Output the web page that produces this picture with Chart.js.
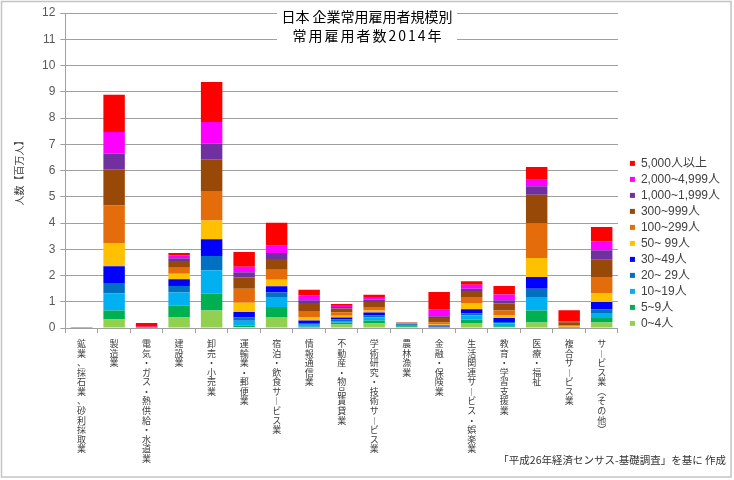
<!DOCTYPE html>
<html>
<head>
<meta charset="utf-8">
<script src="https://cdn.jsdelivr.net/npm/chart.js@4.4.1/dist/chart.umd.min.js"></script>
<style>
html, body { margin: 0; padding: 0; background: #fff; }
#wrap { width: 734px; height: 480px; position: relative; }
</style>
</head>
<body>
<div id="wrap"><canvas id="chart"></canvas></div>
<script>
// 産業分類
var categories = [
    "鉱業、採石業、砂利採取業", "製造業", "電気・ガス・熱供給・水道業", "建設業",
    "卸売・小売業", "運輸業・郵便業", "宿泊・飲食サービス業", "情報通信業",
    "不動産・物品賃貸業", "学術研究・技術サービス業", "農林漁業", "金融・保険業",
    "生活関連サービス・娯楽業", "教育・学習支援業", "医療・福祉", "複合サービス業",
    "サービス業（その他）"
];

// 規模別 常用雇用者数（百万人）
var s0_4      = [0.001, 0.32, 0.001, 0.40, 0.67, 0.04, 0.42, 0.02, 0.13, 0.17, 0.03, 0.01, 0.19, 0.04, 0.21, 0.005, 0.21];
var s5_9      = [0.001, 0.35, 0.001, 0.46, 0.64, 0.06, 0.38, 0.03, 0.07, 0.12, 0.04, 0.01, 0.13, 0.03, 0.46, 0.005, 0.17];
var s10_19    = [0.001, 0.64, 0.002, 0.49, 0.89, 0.18, 0.38, 0.07, 0.07, 0.11, 0.04, 0.02, 0.16, 0.10, 0.51, 0.01, 0.19];
var s20_29    = [0.001, 0.40, 0.002, 0.25, 0.54, 0.12, 0.17, 0.07, 0.06, 0.08, 0.03, 0.02, 0.07, 0.06, 0.32, 0.01, 0.14];
var s30_49    = [0.001, 0.64, 0.002, 0.26, 0.64, 0.21, 0.24, 0.10, 0.07, 0.11, 0.02, 0.04, 0.16, 0.15, 0.44, 0.01, 0.28];
var s50_99    = [0.001, 0.89, 0.004, 0.21, 0.72, 0.35, 0.25, 0.13, 0.07, 0.08, 0.02, 0.03, 0.24, 0.10, 0.73, 0.02, 0.32];
var s100_299  = [0.001, 1.43, 0.008, 0.23, 1.12, 0.54, 0.38, 0.23, 0.13, 0.13, 0.02, 0.08, 0.23, 0.19, 1.31, 0.04, 0.63];
var s300_999  = [0.001, 1.38, 0.01, 0.25, 1.21, 0.42, 0.41, 0.30, 0.14, 0.19, 0.01, 0.17, 0.23, 0.26, 1.10, 0.12, 0.66];
var s1000     = [0.000, 0.59, 0.01, 0.11, 0.59, 0.20, 0.23, 0.11, 0.06, 0.09, 0.005, 0.07, 0.09, 0.13, 0.32, 0.03, 0.36];
var s2000     = [0.000, 0.83, 0.01, 0.10, 0.83, 0.21, 0.29, 0.19, 0.08, 0.10, 0.003, 0.26, 0.15, 0.22, 0.25, 0.02, 0.34];
var s5000     = [0.000, 1.42, 0.14, 0.10, 1.52, 0.57, 0.86, 0.21, 0.03, 0.09, 0.003, 0.66, 0.13, 0.32, 0.48, 0.41, 0.55];

// 下から順
var seriesNames = ["0~4人", "5~9人", "10~19人", "20~ 29人", "30~49人", "50~ 99人",
                   "100~299人", "300~999人", "1,000~1,999人", "2,000~4,999人", "5,000人以上"];
var seriesData = [s0_4, s5_9, s10_19, s20_29, s30_49, s50_99, s100_299, s300_999, s1000, s2000, s5000];
var seriesColors = ["#92d050", "#00b050", "#00b0f0", "#0070c0", "#0000ff", "#ffc000",
                    "#e46c0a", "#984807", "#7030a0", "#ff00ff", "#ff0000"];

var yMax = 12;
var titleLines = ["日本 企業常用雇用者規模別", "常用雇用者数2014年"];
var yTitle = "人数【百万人】";
var footerText = "「平成26年経済センサス-基礎調査」を基に 作成";

var jpFont = '"Liberation Sans", "Noto Sans CJK JP", sans-serif';

// 縦書き風に1文字ずつ改行
function verticalLabel(name) {
    var map = { "ー": "︱", "（": "︵", "）": "︶" };
    return Array.from(name).map(function(c){ return map[c] || c; });
}

var datasets = seriesData.map(function(d, i){
    return {
        label: seriesNames[i],
        data: d,
        backgroundColor: seriesColors[i],
        borderWidth: 0,
        barPercentage: 0.66,
        categoryPercentage: 1.0
    };
});

var decor = {
    id: 'decor',
    beforeDraw: function(chart){
        var ctx = chart.ctx;
        ctx.save();
        ctx.strokeStyle = '#c4c4c4';
        ctx.lineWidth = 1.5;
        ctx.strokeRect(1.5, 1.5, 729.5, 475.5);
        ctx.restore();
    },
    afterDraw: function(chart){
        var ctx = chart.ctx;
        ctx.save();
        ctx.fillStyle = '#fff';
        ctx.fillRect(277, 4, 180, 42);
        ctx.fillStyle = '#000';
        ctx.font = '14px "Noto Sans CJK JP", sans-serif';
        ctx.textAlign = 'center';
        ctx.textBaseline = 'middle';
        ctx.fillText(titleLines[0], 367, 16.5);
        ctx.letterSpacing = '2px';
        ctx.fillText(titleLines[1], 368, 36);
        ctx.letterSpacing = '0px';
        ctx.font = '10.5px "Noto Sans CJK JP", sans-serif';
        ctx.fillStyle = '#333';
        ctx.textAlign = 'right';
        ctx.fillText(footerText, 726, 460);
        ctx.restore();
    }
};

new Chart(document.getElementById('chart'), {
    type: 'bar',
    data: {
        labels: categories.map(verticalLabel),
        datasets: datasets
    },
    options: {
        responsive: true,
        maintainAspectRatio: false,
        animation: false,
        layout: { padding: { left: 8, top: 13, right: 4, bottom: 5 } },
        plugins: {
            legend: {
                position: 'right',
                align: 'start',
                fullSize: true,
                reverse: true,
                title: {
                    display: true,
                    text: ' ',
                    padding: { top: 126, bottom: 0 },
                    font: { size: 12 }
                },
                labels: {
                    boxWidth: 5,
                    boxHeight: 5,
                    padding: 4,
                    color: '#404040',
                    font: { family: jpFont, size: 12 }
                }
            },
            tooltip: { enabled: false }
        },
        scales: {
            x: {
                stacked: true,
                grid: { drawOnChartArea: false, tickLength: 5, color: '#a0a0a0' },
                border: { color: '#a0a0a0' },
                ticks: {
                    autoSkip: false,
                    maxRotation: 0,
                    minRotation: 0,
                    padding: 6,
                    color: '#404040',
                    font: { family: '"Noto Sans CJK JP", sans-serif', size: 9, lineHeight: 1.06 }
                },
                afterFit: function(s){ s.height = 147; }
            },
            y: {
                stacked: true,
                min: 0,
                max: yMax,
                ticks: {
                    stepSize: 1,
                    padding: 5,
                    color: '#595959',
                    font: { family: '"Liberation Sans", sans-serif', size: 12 }
                },
                grid: { tickLength: 5, color: '#a0a0a0' },
                border: { color: '#a0a0a0' },
                title: {
                    display: true,
                    text: yTitle,
                    color: '#404040',
                    padding: { top: 5, bottom: 12 },
                    font: { family: '"Noto Sans CJK JP", sans-serif', size: 10 }
                }
            },
            gap: {
                type: 'linear',
                position: 'right',
                display: true,
                grid: { display: false },
                border: { display: false },
                ticks: { display: false },
                afterFit: function(s){ s.width = 8; }
            }
        }
    },
    plugins: [decor]
});
</script>
</body>
</html>
